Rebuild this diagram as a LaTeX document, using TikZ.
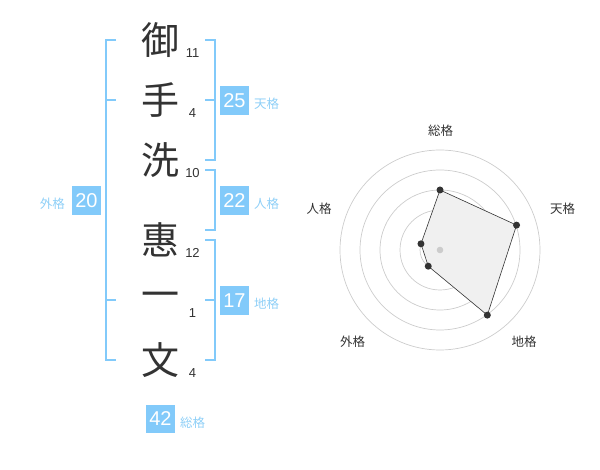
\documentclass[tikz,border=0pt]{standalone}
\usepackage{fontspec}
\setmainfont{Liberation Sans}
\newfontfamily\cjk{Noto Sans CJK JP}
\usepackage{xcolor}
\usetikzlibrary{
    positioning,
    calc
}
\definecolor{skyblue}{HTML}{82CAFA}
\definecolor{paleblue}{HTML}{8ECFF7}
\definecolor{inkgray}{HTML}{333333}
\definecolor{ringgray}{HTML}{CCCCCC}
\definecolor{areagray}{HTML}{F0F0F0}
\tikzset{
  kanji/.style = {
      inner sep=0pt,
      text=inkgray,
      font=\cjk\fontsize{38}{38}\selectfont
  },
  strokes/.style = {
      inner sep=0pt,
      text=inkgray,
      font=\fontsize{13}{13}\selectfont
  },
  score/.style = {
      fill=skyblue,
      text=white,
      minimum size=28.5pt,
      inner sep=0pt,
      font=\fontsize{20}{20}\selectfont
  },
  kind/.style = {
      inner sep=0pt,
      text=paleblue,
      font=\cjk\fontsize{12.5}{12.5}\selectfont
  },
  bracket/.style = {
      draw=skyblue,
      line width=2pt
  },
  ring/.style = {
      draw=ringgray,
      line width=0.7pt
  },
  axis/.style = {
      inner sep=0pt,
      text=inkgray,
      font=\cjk\fontsize{12.5}{12.5}\selectfont
  },
  vertex/.style = {
      circle,
      fill=inkgray,
      minimum size=7pt,
      inner sep=0pt
  }
}
\begin{document}
\begin{tikzpicture}[x=1pt,y=-1pt]
        \useasboundingbox (0,0) rectangle (600,470);
        % Name
        \node[kanji] (k1) at (160,40) {御};
        \node[kanji] (k2) at (160,100) {手};
        \node[kanji] (k3) at (160,160) {洗};
        \node[kanji] (k4) at (160,240) {惠};
        \node[kanji] (k5) at (160,300) {一};
        \node[kanji] (k6) at (160,360) {文};
        \node[strokes] (s1) at (192.5,53) {11};
        \node[strokes] (s2) at (192.5,113) {4};
        \node[strokes] (s3) at (192.5,173) {10};
        \node[strokes] (s4) at (192.5,253) {12};
        \node[strokes] (s5) at (192.5,313) {1};
        \node[strokes] (s6) at (192.5,373) {4};
        % Brackets
        \draw[bracket] (116,40) -- (105.5,40) -- (105.5,360) -- (116,360);
        \draw[bracket] (105.5,100) -- (116,100);
        \draw[bracket] (105.5,300) -- (116,300);
        \draw[bracket] (205,40) -- (214.5,40) -- (214.5,160) -- (205,160);
        \draw[bracket] (205,100) -- (214.5,100);
        \draw[bracket] (205,170) -- (214.5,170) -- (214.5,230) -- (205,230);
        \draw[bracket] (205,240) -- (214.5,240) -- (214.5,360) -- (205,360);
        \draw[bracket] (205,300) -- (214.5,300);
        % Scores
        \node[score] (ten) at (234.5,100.5) {25};
        \node[kind, anchor=west] (tenl) at (254,104) {天格};
        \node[score] (jin) at (234.5,200.5) {22};
        \node[kind, anchor=west] (jinl) at (254,204) {人格};
        \node[score] (chi) at (234.5,300.5) {17};
        \node[kind, anchor=west] (chil) at (254,304) {地格};
        \node[score] (gai) at (86.5,200.5) {20};
        \node[kind, anchor=east] (gail) at (65,204) {外格};
        \node[score] (sou) at (160.5,419) {42};
        \node[kind, anchor=west] (soul) at (180,422.5) {総格};
        % Radar
        \coordinate (c) at (440,250);
        \foreach \r in {20,40,...,100}
            \draw[ring] (c) circle[radius=\r];
        \path (c) ++(-90:60) coordinate (p1);
        \path (c) ++(-18:80.5) coordinate (p2);
        \path (c) ++(54:80.5) coordinate (p3);
        \path (c) ++(126:20) coordinate (p4);
        \path (c) ++(198:20) coordinate (p5);
        \path[fill=areagray, draw=inkgray, line width=0.6pt]
        (p1) -- (p2) -- (p3) -- (p4) -- (p5) -- cycle;
        \fill[ringgray] (c) circle[radius=3.3];
        \foreach \i in {1,...,5}
            \node[vertex] (v\i) at (p\i) {};
        \node[axis] (a1) at (440.5,130.5) {総格};
        \node[axis] (a2) at (562.5,208.5) {天格};
        \node[axis] (a3) at (524,342) {地格};
        \node[axis] (a4) at (352.5,342) {外格};
        \node[axis] (a5) at (319,208.5) {人格};
    \end{tikzpicture}
\end{document}
